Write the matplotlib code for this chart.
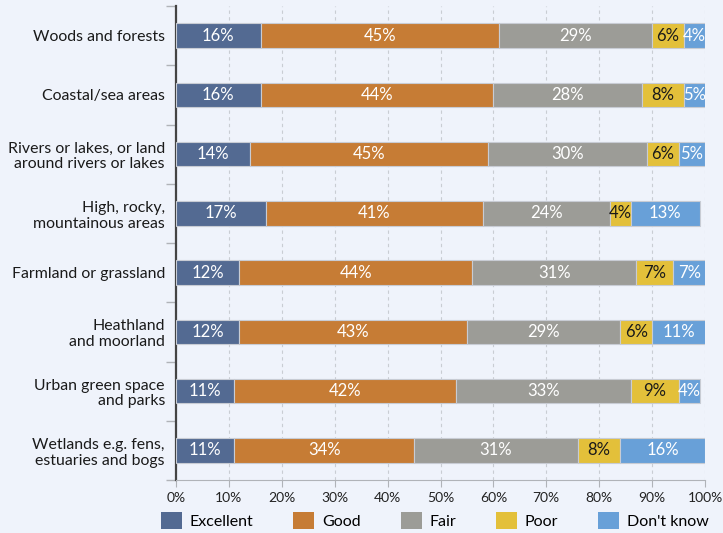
import numpy as np
import matplotlib.pyplot as plt
from matplotlib.patches import Patch

plt.rcParams['font.family'] = ['Lato', 'DejaVu Sans']

categories = [
    'Woods and forests',
    'Coastal/sea areas',
    'Rivers or lakes, or land\naround rivers or lakes',
    'High, rocky,\nmountainous areas',
    'Farmland or grassland',
    'Heathland\nand moorland',
    'Urban green space\nand parks',
    'Wetlands e.g. fens,\nestuaries and bogs',
]
series = ['Excellent', 'Good', 'Fair', 'Poor', "Don't know"]
excellent = [16, 16, 14, 17, 12, 12, 11, 11]
good = [45, 44, 45, 41, 44, 43, 42, 34]
fair = [29, 28, 30, 24, 31, 29, 33, 31]
poor = [6, 8, 6, 4, 7, 6, 9, 8]
dont_know = [4, 5, 5, 13, 7, 11, 4, 16]

colors = ['#536a92', '#c67c35', '#9c9c97', '#e3c03a', '#68a0d8']
text_colors = ['white', 'white', 'white', '#1a1a1a', 'white']
bg = '#eff3fb'

fig = plt.figure(figsize=(7.23, 5.33), dpi=100, facecolor=bg)
ax = fig.add_axes([176 / 723, 53 / 533, 529 / 723, 474 / 533], facecolor=bg)

y = np.arange(len(categories))
left = np.zeros(len(categories))
for name, vals, c, tc in zip(series, [excellent, good, fair, poor, dont_know], colors, text_colors):
    vals = np.array(vals, dtype=float)
    bars = ax.barh(y, vals, left=left, height=0.41, color=c, edgecolor='#c8ccd4',
                   linewidth=0.8, zorder=3)
    for b, v in zip(bars, vals):
        # keep the label centred on the visible part when the stack runs past 100%
        cx = min(b.get_x() + b.get_width() / 2, (b.get_x() + 100) / 2)
        ax.text(cx, b.get_y() + b.get_height() / 2,
                f'{v:.0f}%', ha='center', va='center', color=tc, fontsize=12, zorder=4)
    left += vals

ax.set_xlim(0, 100)
ax.set_ylim(len(categories) - 0.5, -0.5)
ax.set_xticks(np.arange(0, 101, 10))
ax.set_xticklabels([f'{t}%' for t in range(0, 101, 10)], fontsize=10, color='#222222')
ax.xaxis.grid(True, linestyle=(0, (3, 3)), color='#c9cdd3', linewidth=0.8, zorder=0)

ax.set_yticks(y)
ax.set_yticklabels(categories, fontsize=11.4, color='#1a1a1a', linespacing=1.15)
ax.tick_params(axis='y', length=0, pad=8)
ax.set_yticks(np.arange(-0.5, len(categories), 1), minor=True)
ax.tick_params(axis='y', which='minor', length=7, color='#b0b3b8', width=1)
ax.tick_params(axis='x', length=5, color='#b0b3b8', pad=4)

for s in ['top', 'right']:
    ax.spines[s].set_visible(False)
ax.spines['left'].set_color('#444444')
ax.spines['left'].set_linewidth(1.6)
ax.spines['bottom'].set_color('#b0b3b8')

handles = [Patch(facecolor=c, label=n) for c, n in zip(colors, series)]
fig.legend(handles=handles, loc='upper left', bbox_to_anchor=(161 / 723, 1 - 512 / 533), ncol=5,
           frameon=False, fontsize=11.5, handlelength=1.3, handleheight=1.3,
           handletextpad=0.5, columnspacing=2.5, borderaxespad=0, borderpad=0)

fig.savefig('out.png', dpi=100, facecolor=bg)
